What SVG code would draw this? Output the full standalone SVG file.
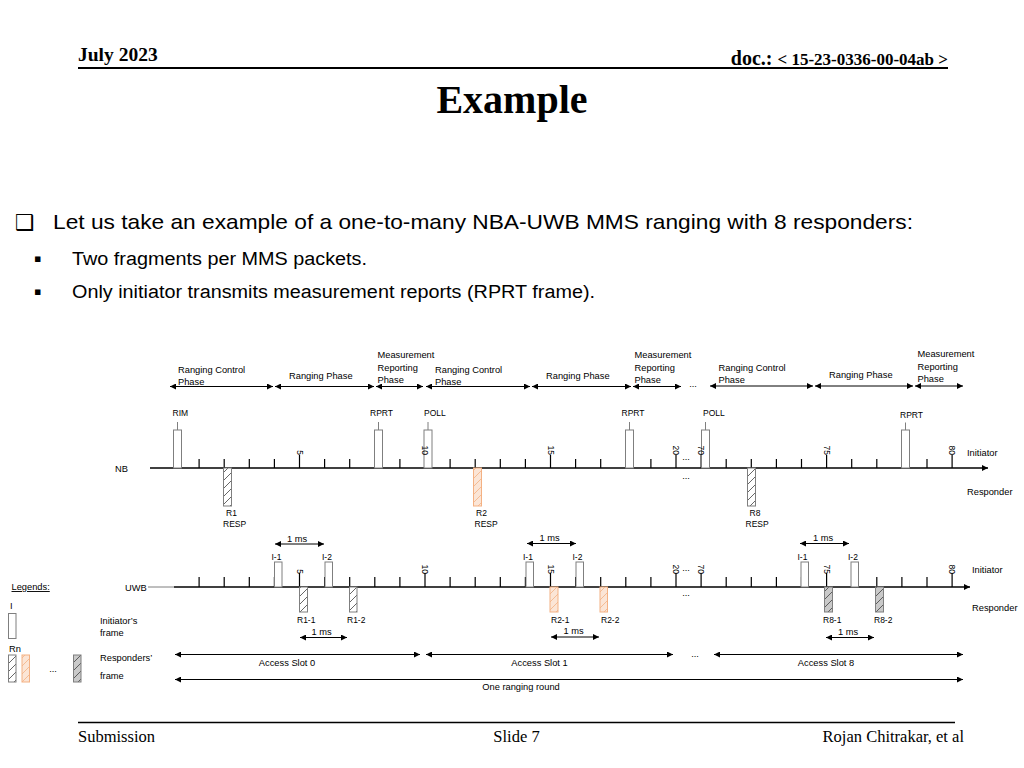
<svg xmlns="http://www.w3.org/2000/svg" width="1024" height="768" viewBox="0 0 1024 768">
<style>
.t{font-family:"Liberation Sans",Arial,sans-serif;font-size:9.3px;fill:#000}
.f{font-size:8.5px}
.tk{font-size:8.5px}
.m{text-anchor:middle}
.ser{font-family:"Liberation Serif","Times New Roman",serif;fill:#000}
.ax{stroke:#000;stroke-width:1.5;fill:none}
.thin{stroke:#7f7f7f;stroke-width:1;fill:none}
.tick{stroke:#000;stroke-width:1.2}
.arr{stroke:#000;stroke-width:1;fill:none;marker-start:url(#ah);marker-end:url(#ah)}
.stub{stroke:#7f7f7f;stroke-width:1}
.ib{fill:#fff;stroke:#7f7f7f;stroke-width:1}
.rw{fill:url(#hw);stroke:#7f7f7f;stroke-width:1}
.ro{fill:url(#ho);stroke:#f4b183;stroke-width:1}
.rg{fill:url(#hg);stroke:#7f7f7f;stroke-width:1}
</style>
<defs>
<marker id="ah" viewBox="0 0 10 10" refX="10" refY="5" markerWidth="9" markerHeight="6" markerUnits="userSpaceOnUse" orient="auto-start-reverse"><path d="M0,0 L10,5 L0,10 z" fill="#000"/></marker>
<marker id="axh" viewBox="0 0 10 10" refX="10" refY="5" markerWidth="9" markerHeight="6" markerUnits="userSpaceOnUse" orient="auto"><path d="M0,0 L10,5 L0,10 z" fill="#000"/></marker>
<pattern id="hw" patternUnits="userSpaceOnUse" width="8" height="8"><rect width="8" height="8" fill="#fff"/><path d="M0,8 L8,0 M-2,2 L2,-2 M6,10 L10,6" stroke="#404040" stroke-width="0.8"/></pattern>
<pattern id="ho" patternUnits="userSpaceOnUse" width="8" height="8"><rect width="8" height="8" fill="#fbe5d6"/><path d="M0,8 L8,0 M-2,2 L2,-2 M6,10 L10,6" stroke="#f4b183" stroke-width="0.8"/></pattern>
<pattern id="hg" patternUnits="userSpaceOnUse" width="8" height="8"><rect width="8" height="8" fill="#c9c9c9"/><path d="M0,8 L8,0 M-2,2 L2,-2 M6,10 L10,6" stroke="#404040" stroke-width="0.8"/></pattern>
</defs>
<rect width="1024" height="768" fill="#fff"/>

<!-- header -->
<g id="header">
<text x="78" y="61" class="ser" font-weight="bold" font-size="19.5">July 2023</text>
<text x="948" y="64.5" text-anchor="end" class="ser" font-weight="bold"><tspan font-size="20">doc.: </tspan><tspan font-size="17">&lt; 15-23-0336-00-04ab &gt;</tspan></text>
<line x1="78" y1="68" x2="948" y2="68" stroke="#000" stroke-width="2"/>
<text x="512" y="113" text-anchor="middle" class="ser" font-weight="bold" font-size="40">Example</text>
</g>

<g id="bullets" font-family="'Liberation Sans',Arial,sans-serif">
<text x="15" y="230" font-family="'DejaVu Sans',sans-serif" font-size="22">❑</text>
<text x="53" y="228.5" font-size="21" textLength="860" lengthAdjust="spacingAndGlyphs">Let us take an example of a one-to-many NBA-UWB MMS ranging with 8 responders:</text>
<text x="34" y="262" font-family="'DejaVu Sans',sans-serif" font-size="11">▪</text>
<text x="72" y="264.5" font-size="18" textLength="295" lengthAdjust="spacingAndGlyphs">Two fragments per MMS packets.</text>
<text x="34" y="295" font-family="'DejaVu Sans',sans-serif" font-size="11">▪</text>
<text x="72" y="297.5" font-size="18" textLength="523" lengthAdjust="spacingAndGlyphs">Only initiator transmits measurement reports (RPRT frame).</text>
</g>

<!-- phase labels -->
<g id="phases">
<text class="t" x="178" y="372.5">Ranging Control</text><text class="t" x="178" y="385">Phase</text>
<text class="t" x="289" y="378.5">Ranging Phase</text>
<text class="t" x="377.5" y="358">Measurement</text><text class="t" x="377.5" y="370.5">Reporting</text><text class="t" x="377.5" y="383">Phase</text>
<text class="t" x="435" y="372.5">Ranging Control</text><text class="t" x="435" y="385">Phase</text>
<text class="t" x="546" y="378.5">Ranging Phase</text>
<text class="t" x="634.5" y="358">Measurement</text><text class="t" x="634.5" y="370.5">Reporting</text><text class="t" x="634.5" y="383">Phase</text>
<text class="t m" x="693" y="387">...</text>
<text class="t" x="718.5" y="370.5">Ranging Control</text><text class="t" x="718.5" y="383">Phase</text>
<text class="t" x="829" y="377.5">Ranging Phase</text>
<text class="t" x="917.5" y="357">Measurement</text><text class="t" x="917.5" y="369.5">Reporting</text><text class="t" x="917.5" y="382">Phase</text>
</g>

<g id="connectors">
<path class="arr" d="M170,386.5 H273"/>
<path class="arr" d="M275,386.5 H374"/>
<path class="arr" d="M376,386.5 H423"/>
<path class="arr" d="M426,386.5 H530"/>
<path class="arr" d="M532,386.5 H631"/>
<path class="arr" d="M633,386.5 H681"/>
<path class="arr" d="M710,386 H813"/>
<path class="arr" d="M815,386 H913"/>
<path class="arr" d="M915,386 H963"/>
<path class="arr" d="M275,544 H324"/>
<path class="arr" d="M527,543.5 H576"/>
<path class="arr" d="M800,543.5 H849"/>
<path class="arr" d="M300,637.5 H347"/>
<path class="arr" d="M551,637 H599"/>
<path class="arr" d="M826,637.5 H874"/>
<path class="arr" d="M175,654.5 H420"/>
<path class="arr" d="M426,654.5 H673"/>
<path class="arr" d="M714,654.5 H963"/>
<path class="arr" d="M175,679.5 H963"/>
</g>

<!-- NB timeline -->
<g id="nb-axis">
<text class="t" x="115" y="471.5">NB</text>
<line class="ax" x1="150" y1="468" x2="988" y2="468" marker-end="url(#axh)"/>
<path class="tick" d="M199.1,459V468 M224.2,459V468 M249.3,459V468 M274.4,459V468 M299.5,455V468 M324.6,459V468 M349.7,459V468 M374.8,459V468 M399.9,459V468 M425,455V468 M450.1,459V468 M475.2,459V468 M500.3,459V468 M525.4,459V468 M550.5,455V468 M575.6,459V468 M600.7,459V468 M625.8,459V468 M650.9,459V468 M676,455V468 M701.1,455V468 M726.2,459V468 M751.3,459V468 M776.4,459V468 M801.5,459V468 M826.6,455V468 M851.7,459V468 M876.8,459V468 M901.9,459V468 M927,459V468 M952.1,455V468"/>
<text class="t m" x="686" y="460">...</text>
<text class="t m" x="686" y="479">...</text>
<text class="t" x="967" y="455.5" font-size="10">Initiator</text>
<text class="t" x="967" y="494.5" font-size="10">Responder</text>
</g>

<g id="nb-rim"><text class="t f" x="172.5" y="416">RIM</text><line class="stub" x1="177.5" y1="422" x2="177.5" y2="430"/><rect class="ib" x="173.5" y="430" width="8" height="38"/></g>
<g id="nb-rprt1"><text class="t f" x="370" y="416">RPRT</text><line class="stub" x1="378.5" y1="422" x2="378.5" y2="430"/><rect class="ib" x="374.5" y="430" width="8" height="38"/></g>
<g id="nb-poll1"><text class="t f" x="424" y="416">POLL</text><line class="stub" x1="428" y1="422" x2="428" y2="430"/><rect class="ib" x="424" y="430" width="8" height="38"/></g>
<g id="nb-rprt2"><text class="t f" x="621.5" y="416">RPRT</text><line class="stub" x1="629.5" y1="422" x2="629.5" y2="430"/><rect class="ib" x="625.5" y="430" width="8" height="38"/></g>
<g id="nb-poll2"><text class="t f" x="703" y="416">POLL</text><line class="stub" x1="705.5" y1="422" x2="705.5" y2="430"/><rect class="ib" x="701.5" y="430" width="8" height="38"/></g>
<g id="nb-rprt3"><text class="t f" x="900" y="418">RPRT</text><line class="stub" x1="905.5" y1="422.5" x2="905.5" y2="430"/><rect class="ib" x="901.5" y="430" width="8" height="38"/></g>

<g id="nb-r1"><rect class="rw" x="223.5" y="468" width="8" height="38"/><text class="t f" x="226" y="516">R1</text><text class="t f" x="223" y="527">RESP</text></g>
<g id="nb-r2"><rect class="ro" x="473.5" y="468" width="8" height="38"/><text class="t f" x="476" y="516">R2</text><text class="t f" x="474.5" y="527">RESP</text></g>
<g id="nb-r8"><rect class="rw" x="747.5" y="468" width="8" height="38"/><text class="t f" x="749.5" y="516">R8</text><text class="t f" x="745.5" y="527">RESP</text></g>

<g id="nb-scale" class="t tk" text-anchor="end">
<text transform="translate(296.5,455) rotate(90)">5</text>
<text transform="translate(422,455) rotate(90)">10</text>
<text transform="translate(547.5,455) rotate(90)">15</text>
<text transform="translate(673,455) rotate(90)">20</text>
<text transform="translate(698.1,455) rotate(90)">70</text>
<text transform="translate(823.6,455) rotate(90)">75</text>
<text transform="translate(949.1,455) rotate(90)">80</text>
</g>

<!-- UWB timeline -->
<g id="uwb-axis">
<text class="t" x="125" y="590.5">UWB</text>
<line class="thin" x1="148" y1="587" x2="174" y2="587"/>
<line class="ax" x1="174" y1="587" x2="970" y2="587" marker-end="url(#axh)"/>
<path class="tick" d="M199.1,577V587 M224.2,577V587 M249.3,577V587 M274.4,577V587 M299.5,573V587 M324.6,577V587 M349.7,577V587 M374.8,577V587 M399.9,577V587 M425,573V587 M450.1,577V587 M475.2,577V587 M500.3,577V587 M525.4,577V587 M550.5,573V587 M575.6,577V587 M600.7,577V587 M625.8,577V587 M650.9,577V587 M676,573V587 M701.1,573V587 M726.2,577V587 M751.3,577V587 M776.4,577V587 M801.5,577V587 M826.6,573V587 M851.7,577V587 M876.8,577V587 M901.9,577V587 M927,577V587 M952.1,573V587"/>
<text class="t m" x="686" y="571">...</text>
<text class="t m" x="686" y="596">...</text>
<text class="t" x="972" y="572.5" font-size="10">Initiator</text>
<text class="t" x="972" y="611" font-size="10">Responder</text>
</g>

<g id="uwb-s0-i1"><text class="t f" x="271.5" y="560">I-1</text><rect class="ib" x="274.5" y="562" width="7.5" height="25"/></g>
<g id="uwb-s0-i2"><text class="t f" x="322" y="560">I-2</text><rect class="ib" x="325" y="562" width="7.5" height="25"/></g>
<g id="uwb-s0-r1"><rect class="rw" x="299.5" y="587" width="8" height="25"/><text class="t f" x="297" y="622.5">R1-1</text></g>
<g id="uwb-s0-r2"><rect class="rw" x="349.5" y="587" width="7.5" height="25"/><text class="t f" x="347" y="622.5">R1-2</text></g>
<g id="uwb-s1-i1"><text class="t f" x="523" y="560">I-1</text><rect class="ib" x="526" y="562" width="7.5" height="25"/></g>
<g id="uwb-s1-i2"><text class="t f" x="572.5" y="560">I-2</text><rect class="ib" x="576" y="562" width="7.5" height="25"/></g>
<g id="uwb-s1-r1"><rect class="ro" x="550" y="587" width="8" height="25"/><text class="t f" x="551" y="622.5">R2-1</text></g>
<g id="uwb-s1-r2"><rect class="ro" x="600" y="587" width="7.5" height="25"/><text class="t f" x="601" y="622.5">R2-2</text></g>
<g id="uwb-s8-i1"><text class="t f" x="797.5" y="560">I-1</text><rect class="ib" x="801" y="562" width="7.5" height="25"/></g>
<g id="uwb-s8-i2"><text class="t f" x="848" y="560">I-2</text><rect class="ib" x="851" y="562" width="7.5" height="25"/></g>
<g id="uwb-s8-r1"><rect class="rg" x="824.5" y="587" width="8" height="25"/><text class="t f" x="823" y="622.5">R8-1</text></g>
<g id="uwb-s8-r2"><rect class="rg" x="875.5" y="587" width="8" height="25"/><text class="t f" x="874" y="622.5">R8-2</text></g>

<g id="uwb-scale" class="t tk" text-anchor="end">
<text transform="translate(296.5,574) rotate(90)">5</text>
<text transform="translate(422,574) rotate(90)">10</text>
<text transform="translate(547.5,574) rotate(90)">15</text>
<text transform="translate(673,574) rotate(90)">20</text>
<text transform="translate(698.1,574) rotate(90)">70</text>
<text transform="translate(823.6,574) rotate(90)">75</text>
<text transform="translate(949.1,574) rotate(90)">80</text>
</g>

<g id="labels-ms">
<text class="t m" x="297" y="541.5">1 ms</text>
<text class="t m" x="549.5" y="540.5">1 ms</text>
<text class="t m" x="823" y="540.5">1 ms</text>
<text class="t m" x="321.5" y="635">1 ms</text>
<text class="t m" x="573.5" y="634">1 ms</text>
<text class="t m" x="848" y="634.5">1 ms</text>
</g>
<g id="labels-slots">
<text class="t m" x="287" y="665.5">Access Slot 0</text>
<text class="t m" x="539.5" y="665.5">Access Slot 1</text>
<text class="t m" x="695" y="657">...</text>
<text class="t m" x="826" y="665.5">Access Slot 8</text>
<text class="t m" x="521" y="690">One ranging round</text>
</g>

<!-- legend -->
<g id="legend">
<text class="t" x="11.5" y="590" text-decoration="underline">Legends:</text>
<text class="t" x="10" y="608.5">I</text>
<rect class="ib" x="8.5" y="613.5" width="7.5" height="25"/>
<text class="t" x="9" y="651.5">Rn</text>
<rect class="rw" x="8.5" y="655" width="7.5" height="27"/>
<rect class="ro" x="22" y="655" width="7.5" height="27"/>
<text class="t m" x="53" y="672">...</text>
<rect class="rg" x="73.5" y="655" width="7.5" height="27"/>
<text class="t" x="100" y="623.5">Initiator’s</text>
<text class="t" x="100" y="636">frame</text>
<text class="t" x="100" y="661">Responders’</text>
<text class="t" x="100" y="678.5">frame</text>
</g>

<!-- footer -->
<g id="footer">
<line x1="78" y1="722.5" x2="955" y2="722.5" stroke="#000" stroke-width="1.5"/>
<text x="78" y="742" class="ser" font-size="16.5">Submission</text>
<text x="516.5" y="742" class="ser" font-size="16.5" text-anchor="middle">Slide 7</text>
<text x="964" y="742" class="ser" font-size="16.5" text-anchor="end">Rojan Chitrakar, et al</text>
</g>
</svg>
